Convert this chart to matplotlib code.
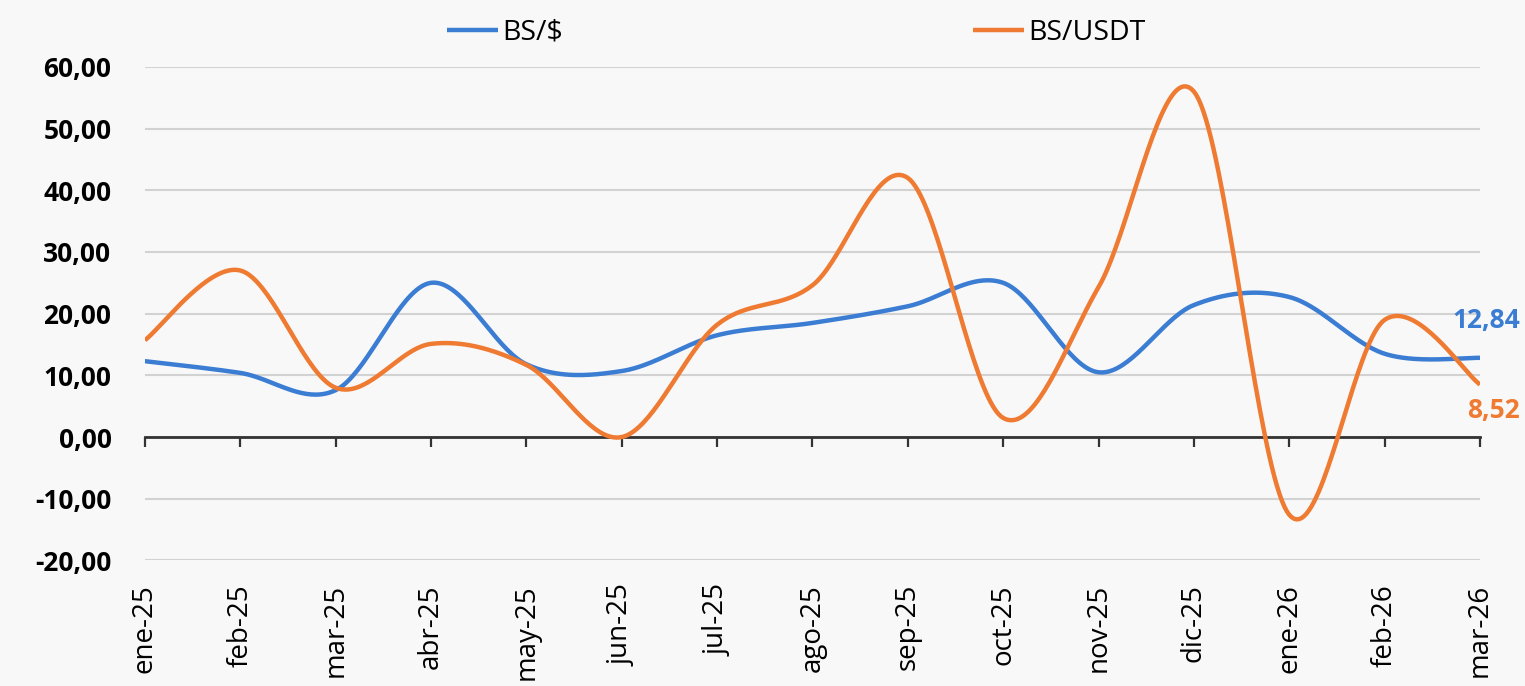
import numpy as np
import matplotlib.pyplot as plt

# Datos (variación mensual)
meses = ['ene-25', 'feb-25', 'mar-25', 'abr-25', 'may-25', 'jun-25', 'jul-25',
         'ago-25', 'sep-25', 'oct-25', 'nov-25', 'dic-25', 'ene-26', 'feb-26', 'mar-26']
bs_dolar = [12.3, 10.4, 7.6, 25.0, 11.8, 10.7, 16.5, 18.5, 21.2, 25.0, 10.5, 21.4, 22.7, 13.5, 12.84]
bs_usdt = [15.7, 27.0, 8.0, 15.1, 11.7, 0.0, 18.2, 24.6, 42.0, 3.1, 24.3, 56.0, -12.6, 19.0, 8.52]

azul = '#3b7dd3'
naranja = '#ef7a32'

plt.rcParams['font.family'] = ['Open Sans', 'DejaVu Sans']


def suavizar(valores, n=40):
    """Curva suave tipo Excel (Bezier con puntos de control a 1/6)"""
    y = np.asarray(valores, float)
    x = np.arange(len(y), dtype=float)
    t = np.linspace(0, 1, n)
    xs, ys = [], []
    for i in range(len(y) - 1):
        a = i - 1 if i > 0 else i
        b = i + 2 if i + 2 < len(y) else i + 1
        for arr, out in ((x, xs), (y, ys)):
            p0, p3 = arr[i], arr[i + 1]
            c1 = p0 + (arr[i + 1] - arr[a]) / 6
            c2 = p3 - (arr[b] - arr[i]) / 6
            out.append((1 - t) ** 3 * p0 + 3 * (1 - t) ** 2 * t * c1
                       + 3 * (1 - t) * t ** 2 * c2 + t ** 3 * p3)
    return np.concatenate(xs), np.concatenate(ys)


fig = plt.figure(figsize=(15.25, 6.86), dpi=100, facecolor='#f8f8f8')
ax = fig.add_axes([0.095, 0.183, 0.8755, 0.7195])
ax.set_facecolor('none')

for serie, color, nombre in ((bs_dolar, azul, 'BS/$'), (bs_usdt, naranja, 'BS/USDT')):
    xs, ys = suavizar(serie)
    ax.plot(xs, ys, color=color, lw=3.2, label=nombre, solid_capstyle='butt', zorder=3)

ax.set_xlim(0, len(meses) - 1)
ax.set_ylim(-20, 60)
ax.set_yticks(np.arange(-20, 61, 10))
ax.set_yticklabels([f'{v:.2f}'.replace('.', ',') for v in np.arange(-20, 61, 10)],
                   fontsize=19, fontweight='bold')
ax.tick_params(axis='y', length=0, pad=24)
ax.yaxis.grid(True, color='#d2d2d2', lw=1.5, zorder=0)

for lado in ['left', 'right', 'top']:
    ax.spines[lado].set_visible(False)
ax.spines['bottom'].set_position(('data', 0))
ax.spines['bottom'].set_color('#333333')
ax.spines['bottom'].set_linewidth(2)
ax.spines['bottom'].set_zorder(2)
ax.set_xticks(range(len(meses)))
ax.tick_params(axis='x', direction='out', length=7.5, width=1.6, color='#333333', labelbottom=False)

# etiquetas del eje x abajo del área
sec = ax.secondary_xaxis('bottom')
sec.set_xticks(range(len(meses)))
sec.set_xticklabels(meses, rotation=90, fontsize=20)
sec.tick_params(length=0, pad=17)
sec.spines['bottom'].set_visible(False)

# valores finales
ax.annotate(f'{bs_dolar[-1]:.2f}'.replace('.', ','), (len(meses) - 1, bs_dolar[-1]),
            xytext=(29, 27), textcoords='offset points', ha='right', va='center',
            color=azul, fontsize=19, fontweight='bold', annotation_clip=False)
ax.annotate(f'{bs_usdt[-1]:.2f}'.replace('.', ','), (len(meses) - 1, bs_usdt[-1]),
            xytext=(29, -19), textcoords='offset points', ha='right', va='center',
            color=naranja, fontsize=19, fontweight='bold', annotation_clip=False)

fig.legend(loc='upper center', bbox_to_anchor=(0.522, 1.01), ncol=2, frameon=False,
           fontsize=20.5, handlelength=1.8, handletextpad=0.15, columnspacing=14.4)

plt.savefig('out.png', dpi=100, facecolor=fig.get_facecolor())
